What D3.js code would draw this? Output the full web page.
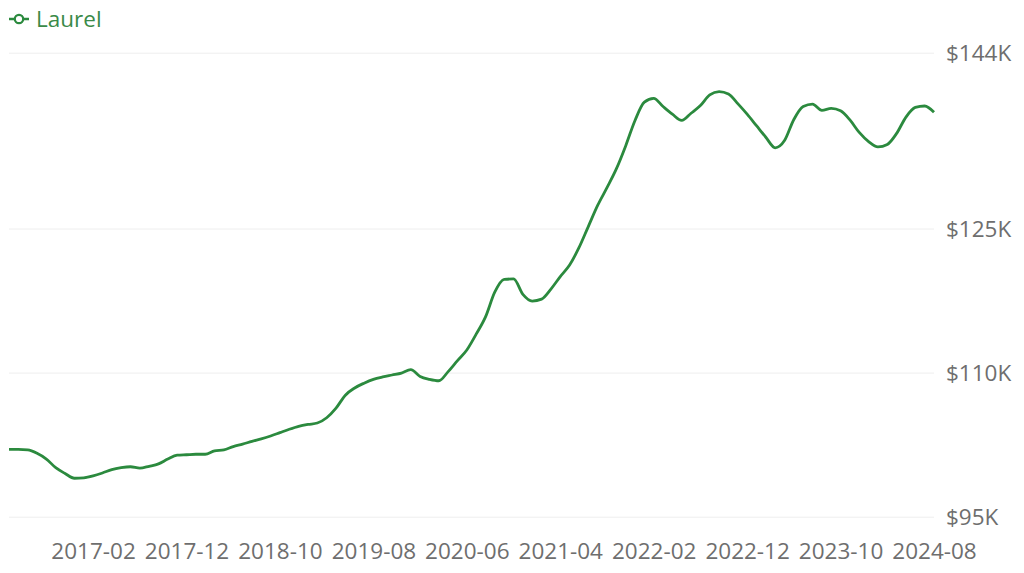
<!DOCTYPE html>
<html>
<head>
<meta charset="utf-8">
<script src="https://cdn.jsdelivr.net/npm/d3@7"></script>
<style>
  html, body { margin: 0; padding: 0; background: #fff; }
  svg { display: block; font-family: "Open Sans", sans-serif; }
  .grid line { stroke: #eeeeee; stroke-width: 1; }
  .axis text { fill: #6e6e6e; font-size: 22.5px; font-family: "Open Sans", sans-serif; }
</style>
</head>
<body>
<div id="vis"></div>
<script>
// chart frame
const FRAME_WIDTH = 1024;
const FRAME_HEIGHT = 573;
const PLOT = {left: 9, right: 934, top: 52.7, bottom: 516.7};
const GREEN = "#2b8a3e";

// data: monthly typical home value for Laurel, in $K (2016-05 .. 2024-08)
const SERIES_NAME = "Laurel";
const FIRST_MONTH = "2016-05";
const LAST_MONTH = "2024-08";
const VALUES = [
  102.0, 102.0, 101.95, 101.6, 101.0, 100.1, 99.5, 99.0, 99.05, 99.25,
  99.55, 99.9, 100.1, 100.2, 100.05, 100.25, 100.5, 101.0, 101.4, 101.45,
  101.5, 101.5, 101.85, 101.95, 102.3, 102.55, 102.85, 103.1, 103.4, 103.75,
  104.1, 104.4, 104.6, 104.75, 105.3, 106.3, 107.65, 108.4, 108.9, 109.3,
  109.55, 109.75, 109.95, 110.3, 109.6, 109.3, 109.15, 110.1, 111.25, 112.35,
  114.0, 115.8, 118.4, 119.7, 119.75, 118.15, 117.45, 117.65, 118.7, 120.0,
  121.2, 123.0, 125.2, 127.4, 129.25, 131.2, 133.6, 136.25, 138.15, 138.55,
  137.7, 136.9, 136.25, 137.0, 137.8, 138.9, 139.25, 139.0, 138.0, 136.9,
  135.7, 134.5, 133.4, 134.15, 136.35, 137.7, 137.95, 137.3, 137.5, 137.25,
  136.3, 135.0, 134.05, 133.5, 133.75, 134.9, 136.6, 137.6, 137.75, 137.1
];

// axis ticks
const X_TICKS = ["2017-02", "2017-12", "2018-10", "2019-08", "2020-06",
                 "2021-04", "2022-02", "2022-12", "2023-10", "2024-08"];
const Y_TICKS = [95, 110, 125, 143.3];
const Y_TICK_LABELS = ["$95K", "$110K", "$125K", "$144K"];

// month categories
const parseMonth = d3.utcParse("%Y-%m");
const fmtMonth = d3.utcFormat("%Y-%m");
const MONTHS = d3.utcMonths(parseMonth(FIRST_MONTH),
                            d3.utcMonth.offset(parseMonth(LAST_MONTH), 1))
                 .map(fmtMonth);

const data = MONTHS.map((m, i) => ({month: m, value: VALUES[i]}));

const FRAME = d3.select("#vis")
  .append("svg")
    .attr("width", FRAME_WIDTH)
    .attr("height", FRAME_HEIGHT);

const X_SCALE = d3.scalePoint()
  .domain(MONTHS)
  .range([PLOT.left, PLOT.right]);

const Y_SCALE = d3.scaleLinear()
  .domain([Y_TICKS[0], Y_TICKS[Y_TICKS.length - 1]])
  .range([PLOT.bottom, PLOT.top]);

// y axis on the right, its ticks double as grid lines
const yAxis = FRAME.append("g")
  .attr("class", "axis grid")
  .attr("transform", "translate(" + PLOT.right + ",0)")
  .call(d3.axisRight(Y_SCALE)
          .tickValues(Y_TICKS)
          .tickFormat((d, i) => Y_TICK_LABELS[i])
          .tickSize(-(PLOT.right - PLOT.left))
          .tickPadding(12));
yAxis.select(".domain").remove();
yAxis.selectAll("text").attr("dy", "0.36em");

// x axis labels
const xAxis = FRAME.append("g")
  .attr("class", "axis")
  .attr("transform", "translate(0," + PLOT.bottom + ")")
  .call(d3.axisBottom(X_SCALE)
          .tickValues(X_TICKS)
          .tickSize(0)
          .tickPadding(26));
xAxis.select(".domain").remove();

// the line
const line = d3.line()
  .x(d => X_SCALE(d.month))
  .y(d => Y_SCALE(d.value))
  .curve(d3.curveMonotoneX);

FRAME.append("path")
  .datum(data)
  .attr("fill", "none")
  .attr("stroke", GREEN)
  .attr("stroke-width", 2.8)
  .attr("stroke-linejoin", "round")
  .attr("d", line);

// legend
const legend = FRAME.append("g").attr("transform", "translate(9,19)");
legend.append("line")
  .attr("x1", 0).attr("x2", 20)
  .attr("stroke", GREEN).attr("stroke-width", 2.5);
legend.append("circle")
  .attr("cx", 10).attr("r", 4.2)
  .attr("fill", "#fff").attr("stroke", GREEN).attr("stroke-width", 2.2);
legend.append("text")
  .attr("x", 27).attr("dy", "0.36em")
  .attr("fill", "#3a8a48")
  .attr("font-size", "22.5px")
  .text(SERIES_NAME);
</script>
</body>
</html>
